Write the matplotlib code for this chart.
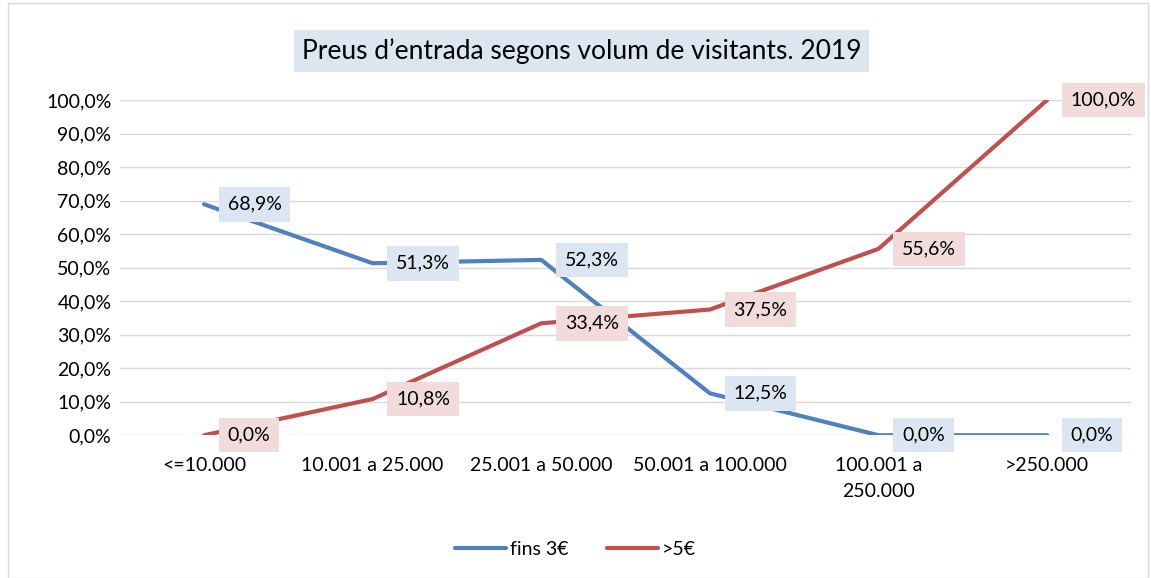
import matplotlib.pyplot as plt
from matplotlib.patches import Rectangle
from matplotlib.ticker import FuncFormatter

categories = ['<=10.000', '10.001 a 25.000', '25.001 a 50.000', '50.001 a 100.000',
              '100.001 a\n250.000', '>250.000']
fins_3 = [68.9, 51.3, 52.3, 12.5, 0.0, 0.0]
mes_5 = [0.0, 10.8, 33.4, 37.5, 55.6, 100.0]

blue = '#4F81BD'
red = '#C0504D'

plt.rcParams['font.family'] = ['Lato', 'DejaVu Sans']

fig = plt.figure(figsize=(11.51, 5.78), dpi=100)
ax = fig.add_axes([0.104, 0.247, 0.879, 0.58])

x = list(range(len(categories)))
ax.plot(x, fins_3, color=blue, lw=3, solid_capstyle='round', solid_joinstyle='round',
        label='fins 3€', zorder=3)
ax.plot(x, mes_5, color=red, lw=3, solid_capstyle='round', solid_joinstyle='round',
        label='>5€', zorder=3)

# data labels, to the right of each point
for vals, bg in [(fins_3, '#DCE6F2'), (mes_5, '#F2DCDB')]:
    for xi, v in zip(x, vals):
        ax.annotate(f'{v:.1f}%'.replace('.', ','), (xi, v), xytext=(17, 0),
                    textcoords='offset points', ha='left', va='center', fontsize=14,
                    bbox=dict(boxstyle='square,pad=0.45', fc=bg, ec='none'),
                    zorder=5, annotation_clip=False)

ax.set_xlim(-0.5, len(categories) - 0.5)
ax.set_ylim(0, 100)
ax.set_yticks(range(0, 101, 10))
ax.yaxis.set_major_formatter(FuncFormatter(lambda v, p: f'{v:.1f}%'.replace('.', ',')))
ax.set_xticks(x)
ax.set_xticklabels(categories, fontsize=14, linespacing=1.6)
ax.tick_params(axis='y', labelsize=14, length=0, pad=6)
ax.tick_params(axis='x', length=0, pad=16)
ax.grid(axis='y', color='#D9D9D9', lw=1)
ax.set_axisbelow(True)
for s in ax.spines.values():
    s.set_visible(False)

fig.text(0.505, 0.912, 'Preus d\u2019entrada segons volum de visitants. 2019', ha='center',
         va='center', fontsize=19,
         bbox=dict(boxstyle='square,pad=0.3', fc='#DCE6F1', ec='none'))

fig.legend(loc='center', bbox_to_anchor=(0.5, 0.05), ncol=2, frameon=False,
           fontsize=14, handlelength=2.6, columnspacing=2, handletextpad=0.2)

fig.patches.append(Rectangle((0.007, 0.0), 0.99, 0.995, transform=fig.transFigure,
                             fill=False, ec='#D9D9D9', lw=1))

fig.savefig('out.png', dpi=100)
